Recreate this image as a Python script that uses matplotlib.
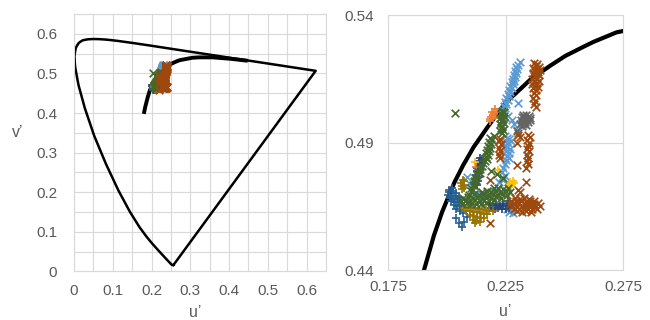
import matplotlib
matplotlib.use("Agg")
import matplotlib.pyplot as plt

plt.rcParams['font.family'] = ['Liberation Sans', 'DejaVu Sans']

# CIE 1976 spectral locus (u', v'), 380 nm -> 700 nm
spectral_u = [0.2568, 0.2557, 0.2522, 0.2347, 0.2161, 0.2033, 0.1877, 0.1690, 0.1441, 0.1147,
              0.0828, 0.0521, 0.0282, 0.0119, 0.0035, 0.0022, 0.0014, 0.0024, 0.0046, 0.0076,
              0.0123, 0.0165, 0.0231, 0.0360, 0.0501, 0.0643, 0.0792, 0.0953, 0.1127, 0.1531,
              0.2026, 0.2623, 0.3315, 0.4035, 0.5203, 0.6005, 0.6234, 0.2568]
spectral_v = [0.0166, 0.0159, 0.0169, 0.0350, 0.0549, 0.0688, 0.0871, 0.1119, 0.1510, 0.2044,
              0.2708, 0.3427, 0.4117, 0.4698, 0.5131, 0.5260, 0.5432, 0.5521, 0.5638, 0.5696,
              0.5770, 0.5800, 0.5837, 0.5861, 0.5868, 0.5865, 0.5856, 0.5841, 0.5821, 0.5766,
              0.5694, 0.5604, 0.5501, 0.5393, 0.5219, 0.5099, 0.5065, 0.0166]

# Planckian locus as drawn in the chart (u', v')
planck_u = [0.1801, 0.1839, 0.1903, 0.1945, 0.1981, 0.2033, 0.2069, 0.2114, 0.2173, 0.2251,
            0.2290, 0.2357, 0.2438, 0.2505, 0.2587, 0.2625, 0.2722, 0.3051, 0.3234, 0.3579,
            0.4062, 0.4481]
planck_v = [0.3978, 0.4157, 0.4400, 0.4535, 0.4630, 0.4745, 0.4810, 0.4882, 0.4960, 0.5058,
            0.5090, 0.5148, 0.5200, 0.5240, 0.5278, 0.5295, 0.5332, 0.5395, 0.5405, 0.5405,
            0.5367, 0.5319]

# measured chromaticities, one list per series
light_blue_pts = [
    (0.2311, 0.5217), (0.2303, 0.5206), (0.2296, 0.5198), (0.2300, 0.5189), (0.2291, 0.5181),
    (0.2296, 0.5173), (0.2285, 0.5166), (0.2291, 0.5158), (0.2280, 0.5151), (0.2286, 0.5143),
    (0.2276, 0.5136), (0.2281, 0.5128), (0.2270, 0.5121), (0.2276, 0.5113), (0.2266, 0.5106),
    (0.2271, 0.5098), (0.2260, 0.5091), (0.2265, 0.5083), (0.2254, 0.5075), (0.2259, 0.5067),
    (0.2249, 0.5058), (0.2253, 0.5050), (0.2243, 0.5043), (0.2247, 0.5035), (0.2238, 0.5027),
    (0.2241, 0.5019), (0.2233, 0.5012), (0.2304, 0.5054), (0.2277, 0.4990), (0.2262, 0.5004),
    (0.2251, 0.4995), (0.2297, 0.4950), (0.2288, 0.4972), (0.2246, 0.4926), (0.2256, 0.4919),
    (0.2266, 0.4912), (0.2249, 0.4905), (0.2262, 0.4898), (0.2273, 0.4906), (0.2247, 0.4890),
    (0.2258, 0.4882), (0.2268, 0.4875), (0.2251, 0.4868), (0.2263, 0.4860), (0.2255, 0.4849),
    (0.2266, 0.4840), (0.2250, 0.4831), (0.2246, 0.4815), (0.2239, 0.4800), (0.2236, 0.4786),
    (0.2246, 0.4770), (0.2229, 0.4760), (0.2221, 0.4745), (0.2240, 0.4752), (0.2283, 0.4622),
    (0.2274, 0.4634), (0.2264, 0.4629), (0.2255, 0.4641), (0.2244, 0.4660), (0.2234, 0.4650),
    (0.2290, 0.4640), (0.2084, 0.4766), (0.2112, 0.4714), (0.2095, 0.4740), (0.2130, 0.4700),
    (0.2150, 0.4694), (0.2170, 0.4705), (0.2200, 0.4712)]

mid_blue_pts = [
    (0.2010, 0.4705), (0.2025, 0.4710), (0.2040, 0.4702), (0.2005, 0.4695), (0.2020, 0.4692),
    (0.2035, 0.4690), (0.2050, 0.4688), (0.2012, 0.4682), (0.2028, 0.4680), (0.2045, 0.4678),
    (0.2060, 0.4676), (0.2018, 0.4670), (0.2035, 0.4668), (0.2052, 0.4665), (0.2030, 0.4655),
    (0.2045, 0.4652), (0.2062, 0.4650), (0.2040, 0.4640), (0.2055, 0.4632), (0.2063, 0.4570),
    (0.2040, 0.4605), (0.2075, 0.4590), (0.2050, 0.4585), (0.2085, 0.4610), (0.2070, 0.4625),
    (0.2008, 0.4715), (0.2022, 0.4720)]

navy_pts = [
    (0.2140, 0.4840), (0.2150, 0.4835), (0.2135, 0.4828), (0.2148, 0.4822), (0.2132, 0.4815),
    (0.2145, 0.4808), (0.2130, 0.4800), (0.2142, 0.4795), (0.2128, 0.4788), (0.2138, 0.4780),
    (0.2125, 0.4772), (0.2135, 0.4765), (0.2122, 0.4758), (0.2132, 0.4750), (0.2120, 0.4742),
    (0.2128, 0.4735), (0.2180, 0.4660), (0.2195, 0.4655), (0.2210, 0.4660), (0.2225, 0.4652),
    (0.2240, 0.4658), (0.2255, 0.4650), (0.2190, 0.4645), (0.2205, 0.4640), (0.2220, 0.4642),
    (0.2235, 0.4638), (0.2250, 0.4640), (0.2265, 0.4645), (0.2275, 0.4660), (0.2260, 0.4670)]

gold_pts = [(0.2270, 0.4745), (0.2278, 0.4738), (0.2283, 0.4751), (0.2265, 0.4735),
            (0.2275, 0.4729), (0.2119, 0.4825), (0.2217, 0.4792), (0.2286, 0.4740)]

orange_pts = [(0.2190, 0.5000), (0.2197, 0.5009), (0.2204, 0.5030), (0.2212, 0.5021),
              (0.2200, 0.5015), (0.2186, 0.4992), (0.2195, 0.4996), (0.2206, 0.5005),
              (0.2193, 0.5019), (0.2182, 0.4985), (0.2123, 0.4805), (0.2225, 0.4851)]

gray_pts = [
    (0.2325, 0.5008), (0.2338, 0.5010), (0.2348, 0.5005), (0.2318, 0.5000), (0.2330, 0.5000),
    (0.2343, 0.4998), (0.2355, 0.4998), (0.2315, 0.4990), (0.2328, 0.4990), (0.2340, 0.4990),
    (0.2352, 0.4988), (0.2320, 0.4980), (0.2333, 0.4980), (0.2345, 0.4980), (0.2312, 0.4972),
    (0.2325, 0.4972), (0.2338, 0.4970), (0.2320, 0.4963), (0.2305, 0.4937), (0.2300, 0.4945)]

dark_gold_pts = [
    (0.2075, 0.4645), (0.2090, 0.4648), (0.2105, 0.4645), (0.2120, 0.4642), (0.2135, 0.4640),
    (0.2150, 0.4638), (0.2165, 0.4636), (0.2180, 0.4632), (0.2195, 0.4630), (0.2082, 0.4632),
    (0.2098, 0.4630), (0.2113, 0.4628), (0.2128, 0.4626), (0.2143, 0.4624), (0.2158, 0.4620),
    (0.2173, 0.4618), (0.2100, 0.4615), (0.2115, 0.4612), (0.2130, 0.4610), (0.2145, 0.4606),
    (0.2160, 0.4604), (0.2110, 0.4598), (0.2125, 0.4594), (0.2140, 0.4590), (0.2120, 0.4585),
    (0.2068, 0.4755), (0.2075, 0.4748), (0.2062, 0.4742), (0.2072, 0.4735), (0.2066, 0.4728),
    (0.2074, 0.4722), (0.2064, 0.4716)]

green_pts = [
    (0.2235, 0.5025), (0.2242, 0.5018), (0.2230, 0.5012), (0.2245, 0.5005), (0.2228, 0.4998),
    (0.2238, 0.4992), (0.2232, 0.4985), (0.2244, 0.4978), (0.2226, 0.4972), (0.2236, 0.4965),
    (0.2230, 0.4958), (0.2240, 0.4950), (0.2228, 0.4945), (0.2234, 0.4938),
    (0.2185, 0.4918), (0.2192, 0.4910), (0.2180, 0.4902), (0.2188, 0.4895), (0.2175, 0.4888),
    (0.2184, 0.4880), (0.2172, 0.4872), (0.2180, 0.4865), (0.2168, 0.4858), (0.2176, 0.4850),
    (0.2165, 0.4842), (0.2172, 0.4835), (0.2162, 0.4828),
    (0.2155, 0.4820), (0.2148, 0.4808), (0.2140, 0.4795), (0.2132, 0.4785), (0.2128, 0.4772),
    (0.2120, 0.4760), (0.2115, 0.4748), (0.2110, 0.4735), (0.2105, 0.4722), (0.2102, 0.4710),
    (0.2140, 0.4780), (0.2125, 0.4755), (0.2118, 0.4730),
    (0.2065, 0.4660), (0.2085, 0.4662), (0.2105, 0.4658), (0.2125, 0.4661), (0.2145, 0.4659),
    (0.2165, 0.4662), (0.2060, 0.4672), (0.2080, 0.4673), (0.2100, 0.4671), (0.2120, 0.4674),
    (0.2140, 0.4672), (0.2160, 0.4673), (0.2180, 0.4671), (0.2200, 0.4674), (0.2070, 0.4684),
    (0.2090, 0.4685), (0.2110, 0.4683), (0.2130, 0.4686), (0.2150, 0.4684), (0.2170, 0.4685),
    (0.2190, 0.4683), (0.2210, 0.4686), (0.2230, 0.4684), (0.2095, 0.4696), (0.2115, 0.4697),
    (0.2135, 0.4695), (0.2155, 0.4698), (0.2175, 0.4696), (0.2195, 0.4697), (0.2215, 0.4695),
    (0.2235, 0.4698), (0.2255, 0.4696), (0.2150, 0.4708), (0.2170, 0.4709), (0.2190, 0.4707),
    (0.2210, 0.4710), (0.2230, 0.4708), (0.2250, 0.4709), (0.2270, 0.4707), (0.2200, 0.4720),
    (0.2220, 0.4721), (0.2240, 0.4719), (0.2260, 0.4722),
    (0.2034, 0.5016), (0.2190, 0.4790), (0.2240, 0.4760), (0.2215, 0.4775), (0.2200, 0.4925)]

brown_pts = [
    (0.2370, 0.5210), (0.2385, 0.5208), (0.2378, 0.5200), (0.2392, 0.5198), (0.2368, 0.5192),
    (0.2383, 0.5190), (0.2395, 0.5185), (0.2374, 0.5182), (0.2388, 0.5176), (0.2366, 0.5172),
    (0.2380, 0.5168), (0.2393, 0.5165), (0.2372, 0.5160), (0.2386, 0.5155), (0.2364, 0.5150),
    (0.2378, 0.5148), (0.2391, 0.5142), (0.2370, 0.5138), (0.2383, 0.5132), (0.2362, 0.5128),
    (0.2376, 0.5122), (0.2388, 0.5118), (0.2368, 0.5112), (0.2380, 0.5108),
    (0.2372, 0.5095), (0.2380, 0.5085), (0.2368, 0.5075), (0.2376, 0.5062), (0.2370, 0.5050),
    (0.2378, 0.5040),
    (0.2345, 0.4930), (0.2352, 0.4920), (0.2342, 0.4910), (0.2350, 0.4900), (0.2345, 0.4888),
    (0.2340, 0.4875), (0.2348, 0.4865), (0.2342, 0.4852), (0.2346, 0.4840), (0.2340, 0.4828),
    (0.2344, 0.4815), (0.2338, 0.4800),
    (0.2226, 0.4915), (0.2222, 0.4905), (0.2230, 0.4895), (0.2224, 0.4880), (0.2228, 0.4865),
    (0.2222, 0.4850), (0.2226, 0.4838),
    (0.2304, 0.4930), (0.2310, 0.4920), (0.2297, 0.4812), (0.2339, 0.4747), (0.2311, 0.4707),
    (0.2305, 0.4715), (0.2183, 0.4753), (0.2183, 0.4583), (0.2300, 0.4900),
    (0.2290, 0.4681), (0.2311, 0.4679), (0.2329, 0.4682), (0.2350, 0.4678),
    (0.2275, 0.4671), (0.2296, 0.4669), (0.2314, 0.4672), (0.2336, 0.4668), (0.2354, 0.4671),
    (0.2372, 0.4669), (0.2270, 0.4661), (0.2291, 0.4659), (0.2309, 0.4662), (0.2331, 0.4658),
    (0.2349, 0.4661), (0.2371, 0.4659), (0.2390, 0.4662), (0.2278, 0.4651), (0.2298, 0.4649),
    (0.2319, 0.4652), (0.2337, 0.4648), (0.2358, 0.4651), (0.2377, 0.4649), (0.2396, 0.4652),
    (0.2285, 0.4641), (0.2306, 0.4639), (0.2324, 0.4642), (0.2346, 0.4638), (0.2364, 0.4641),
    (0.2385, 0.4639), (0.2300, 0.4631), (0.2321, 0.4629), (0.2339, 0.4632), (0.2360, 0.4629)]

# series drawn in this order (later ones on top): points, colour, marker
series = [
    (light_blue_pts, '#5B9BD5', 'x'),
    (mid_blue_pts, '#255E91', '+'),
    (navy_pts, '#264478', '+'),
    (gold_pts, '#FFC000', '+'),
    (orange_pts, '#ED7D31', '+'),
    (gray_pts, '#636363', 'x'),
    (dark_gold_pts, '#997300', '+'),
    (green_pts, '#43682B', 'x'),
    (brown_pts, '#9E480E', 'x'),
]

left_ticks = [0, 0.1, 0.2, 0.3, 0.4, 0.5, 0.6]
left_tick_labels = ['0', '0.1', '0.2', '0.3', '0.4', '0.5', '0.6']
left_minor = [0.05, 0.15, 0.25, 0.35, 0.45, 0.55, 0.65]
right_xticks = [0.175, 0.225, 0.275]
right_xlabels = ['0.175', '0.225', '0.275']
right_yticks = [0.44, 0.49, 0.54]
right_ylabels = ['0.44', '0.49', '0.54']

text_color = '#595959'
grid_color = '#d9d9d9'

fig = plt.figure(figsize=(6.5, 3.2), dpi=100)
ax1 = fig.add_axes([0.1138, 0.1516, 0.3877, 0.8047])
ax2 = fig.add_axes([0.597, 0.156, 0.3615, 0.797])

# left: whole diagram
ax1.plot(spectral_u, spectral_v, color='black', lw=1.8, zorder=2, solid_joinstyle='round')
ax1.plot(planck_u, planck_v, color='black', lw=2.8, zorder=2, solid_capstyle='butt')
# right: zoom on the measured points
ax2.plot(planck_u, planck_v, color='black', lw=3, zorder=2, solid_joinstyle='round')

for pts, color, marker in series:
    us = [p[0] for p in pts]
    vs = [p[1] for p in pts]
    for ax in (ax1, ax2):
        ax.scatter(us, vs, s=30, marker=marker, color=color, linewidths=1.2, zorder=3)

ax1.set_xlim(0, 0.65)
ax1.set_ylim(0, 0.65)
ax1.set_xticks(left_ticks)
ax1.set_xticklabels(left_tick_labels)
ax1.set_yticks(left_ticks)
ax1.set_yticklabels(left_tick_labels)
ax1.set_xticks(left_minor, minor=True)
ax1.set_yticks(left_minor, minor=True)
ax1.grid(which='both', color=grid_color, lw=0.8, zorder=0)
ax1.tick_params(axis='x', which='both', length=0, colors=text_color, labelsize=11, pad=9)
ax1.tick_params(axis='y', which='both', length=0, colors=text_color, labelsize=11, pad=12)

ax2.set_xlim(0.175, 0.275)
ax2.set_ylim(0.44, 0.54)
ax2.set_xticks(right_xticks)
ax2.set_xticklabels(right_xlabels)
ax2.set_yticks(right_yticks)
ax2.set_yticklabels(right_ylabels)
ax2.grid(color=grid_color, lw=0.8, zorder=0)
ax2.tick_params(axis='x', length=0, colors=text_color, labelsize=11, pad=7)
ax2.tick_params(axis='y', length=0, colors=text_color, labelsize=11, pad=10)

for ax in (ax1, ax2):
    ax.set_axisbelow(True)
    for sp in ax.spines.values():
        sp.set_color(grid_color)
        sp.set_linewidth(0.8)

fig.text(0.30, 0.008, 'u\u2019', ha='center', va='baseline', color=text_color, fontsize=11.5)
fig.text(0.777, 0.012, 'u\u2019', ha='center', va='baseline', color=text_color, fontsize=11.5)
fig.text(0.027, 0.585, 'v\u2019', ha='center', va='center', color=text_color, fontsize=11.5)

fig.savefig('out.png', dpi=100)
